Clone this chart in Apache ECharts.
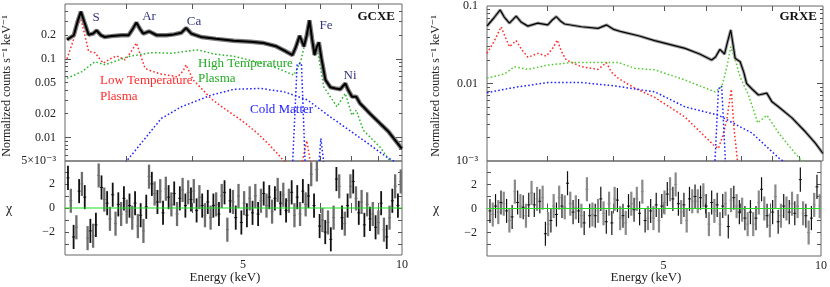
<!DOCTYPE html>
<html><head><meta charset="utf-8">
<script src="https://cdn.jsdelivr.net/npm/echarts@6/dist/echarts.min.js"></script>
<style>html,body{margin:0;padding:0;background:#fff}#c{width:830px;height:287px}</style>
</head><body><div id="c"></div>
<script>
// ---------- GCXE (left) ----------
const gcEnergy = [2.32,2.39,2.43,2.465,2.50,2.55,2.60,2.64,2.69,2.735,2.82,2.94,3.035,3.09,3.14,3.19,3.235,3.32,3.43,3.58,3.70,3.82,3.90,3.99,4.165,4.44,4.80,5.17,5.47,5.77,6.02,6.20,6.29,6.40,6.52,6.60,6.68,6.755,6.83,6.89,6.96,7.04,7.16,7.32,7.48,7.64,7.81,7.91,8.04,8.19,8.33,8.45,8.70,9.09,9.41,9.77,9.99];
const gcData = [0.175,0.20,0.30,0.40,0.30,0.203,0.21,0.23,0.20,0.19,0.195,0.20,0.20,0.24,0.29,0.24,0.21,0.224,0.20,0.20,0.205,0.215,0.247,0.21,0.19,0.18,0.17,0.165,0.159,0.145,0.125,0.112,0.14,0.197,0.144,0.20,0.31,0.18,0.112,0.14,0.162,0.10,0.054,0.0434,0.042,0.041,0.0488,0.04,0.033,0.033,0.027,0.0245,0.02,0.015,0.012,0.0087,0.0072];
const gcLowE = [2.32,2.39,2.43,2.465,2.50,2.55,2.62,2.66,2.72,2.80,2.88,2.99,3.06,3.14,3.20,3.26,3.35,3.50,3.76,3.85,3.90,3.95,4.02,4.17,4.35,4.58,4.81,5.06,5.33,5.59,5.89,6.05,6.29,6.48,6.60,6.71,6.86];
const gcLow = [0.1,0.18,0.27,0.316,0.22,0.124,0.12,0.105,0.088,0.1,0.109,0.097,0.12,0.159,0.11,0.076,0.07,0.064,0.059,0.07,0.084,0.07,0.054,0.042,0.031,0.024,0.0191,0.015,0.0112,0.0082,0.0056,0.0045,0.0038,0.005,0.0091,0.0048,0.003];
const gcHighE = [2.32,2.476,2.62,2.74,3.03,3.35,3.66,3.90,4.11,4.41,4.80,5.29,5.81,6.24,6.425,6.54,6.66,6.81,6.93,7.11,7.53,7.81,8.04,8.19,8.45,9.09,9.49,9.91];
const gcHigh = [0.0565,0.0687,0.092,0.084,0.107,0.12,0.118,0.125,0.13,0.115,0.108,0.092,0.076,0.062,0.092,0.15,0.26,0.11,0.118,0.044,0.0245,0.0363,0.0191,0.0222,0.0123,0.0075,0.005,0.0036];
const gcColdE = [2.80,3.01,3.50,3.82,4.35,4.81,5.40,5.98,6.62,7.32,8.45,9.36,9.91];
const gcCold = [0.0025,0.005,0.0174,0.0245,0.0345,0.041,0.042,0.038,0.030,0.0182,0.0092,0.0056,0.0045];
const gcFeKaE = [6.20,6.33,6.45,6.56];
const gcFeKa = [0.004,0.086,0.088,0.004];
const gcFeKbE = [6.95,7.02,7.07,7.13];
const gcFeKb = [0.004,0.0097,0.0095,0.004];

// ---------- GRXE (right) ----------
const grEnergy = [2.30,2.37,2.436,2.48,2.537,2.613,2.67,2.75,2.87,3.00,3.06,3.114,3.18,3.23,3.475,3.74,3.88,4.00,4.14,4.48,4.79,5.47,5.83,6.145,6.25,6.37,6.50,6.59,6.68,6.81,6.96,7.07,7.16,7.33,7.54,7.82,8.00,8.23,8.73,9.25,9.67,10.0];
const grData = [0.0552,0.07,0.089,0.072,0.06,0.074,0.062,0.055,0.06,0.057,0.066,0.073,0.063,0.0586,0.054,0.0515,0.057,0.05,0.0466,0.041,0.0357,0.0284,0.024,0.0201,0.022,0.0276,0.024,0.035,0.049,0.0211,0.0191,0.014,0.01,0.0085,0.0071,0.0075,0.0058,0.005,0.0036,0.0024,0.0017,0.00125];
const grLowE = [2.30,2.373,2.447,2.49,2.537,2.613,2.671,2.751,2.874,2.981,3.06,3.128,3.184,3.253,3.475,3.739,3.878,3.964,4.082,4.39,4.793,5.466,6.19,6.328,6.45,6.564,6.695,6.77,6.89];
const grLow = [0.0245,0.035,0.054,0.04,0.0298,0.0357,0.028,0.0218,0.0245,0.0226,0.028,0.0364,0.026,0.0201,0.0165,0.0152,0.0186,0.014,0.0117,0.0087,0.0066,0.0037,0.00162,0.00145,0.0021,0.0034,0.0084,0.0028,0.0009];
const grHighE = [2.30,2.483,2.594,2.751,3.003,3.229,3.326,3.739,4.082,4.39,4.793,5.466,6.236,6.423,6.564,6.681,6.859,6.956,7.219,7.518,7.823,8.234,8.856,9.12,9.6];
const grHigh = [0.0117,0.0133,0.0165,0.0152,0.0173,0.0182,0.0187,0.0186,0.0187,0.0157,0.015,0.0111,0.0078,0.0091,0.016,0.0298,0.0173,0.0122,0.0071,0.0031,0.0039,0.0023,0.00125,0.001,0.0007];
const grColdE = [2.30,2.594,3.003,3.475,4.022,4.793,5.466,6.328,7.325,8.234,8.8];
const grCold = [0.0076,0.0089,0.0103,0.0103,0.0093,0.0078,0.005,0.0039,0.0023,0.0011,0.0008];
const grFeKaE = [6.23,6.33,6.42,6.53];
const grFeKa = [0.0009,0.0085,0.0093,0.0009];

// ---------- residuals (chi) ----------
const residE = [2.330,2.359,2.388,2.417,2.446,2.476,2.507,2.538,2.569,2.600,2.632,2.664,2.697,2.730,2.764,2.798,2.832,2.867,2.902,2.938,2.974,3.010,3.047,3.084,3.122,3.160,3.199,3.238,3.278,3.318,3.359,3.400,3.442,3.484,3.527,3.570,3.614,3.658,3.703,3.749,3.795,3.841,3.888,3.936,3.984,4.033,4.083,4.133,4.184,4.235,4.287,4.340,4.393,4.447,4.501,4.556,4.612,4.669,4.726,4.784,4.843,4.902,4.963,5.023,5.085,5.147,5.211,5.275,5.339,5.405,5.471,5.538,5.606,5.675,5.745,5.815,5.886,5.959,6.032,6.106,6.181,6.256,6.333,6.411,6.490,6.569,6.650,6.731,6.814,6.898,6.982,7.068,7.155,7.242,7.331,7.421,7.512,7.605,7.698,7.792,7.888,7.985,8.083,8.182,8.282,8.384,8.487,8.591,8.696,8.803,8.911,9.020,9.131,9.243,9.356,9.471,9.587,9.705,9.824,9.945];
const gcResid = [2.5,0.6,-2.4,-1.6,1.4,2.0,0.9,-2.5,-1.9,-2.3,
 -1.4,2.7,1.7,0.7,0.4,-0.9,1.1,-1.3,0.3,-0.5,
 0.8,-0.3,0.2,-0.8,0.4,-1.5,-0.6,-1.9,0.1,2.6,
 2.0,1.2,0.5,1.4,-0.4,1.6,0.9,0.3,1.2,-0.5,
 0.8,1.5,0.2,1.3,0.7,1.4,-0.2,0.9,0.2,-0.6,
 0.5,-0.8,0.2,0.3,-0.5,1.0,1.3,-1.8,0.6,0.5,
 -0.8,1.0,-1.2,0.4,-0.6,0.8,-0.4,1.0,-0.5,0.6,
 1.2,0.2,0.9,-0.3,0.8,1.5,0.4,1.1,-0.2,0.6,
 1.3,-0.6,0.9,-0.5,1.4,0.3,1.0,2.8,0.2,3.2,
 -1.5,-1.0,-2.0,-1.2,-2.6,-0.8,2.4,1.8,-0.8,-1.3,
 0.2,1.8,2.2,0.8,-0.4,0.5,-1.4,0.3,-0.9,-0.5,
 -1.6,-1.2,0.4,-1.8,-2.4,-0.8,0.6,1.8,0.2,2.2];
const grResid = [-0.2,-0.5,0.2,-0.3,0.5,0.4,-0.2,-1.0,-0.7,1.4,
 0.5,0.2,0.1,-0.6,0.3,1.3,0.3,0.8,0.6,0.9,
 -2.1,-1.3,-1.0,0.2,-0.5,0.9,0.2,0.1,2.1,0.4,
 -0.3,0.1,-0.2,-0.6,-1.2,1.6,-0.6,-0.5,-0.6,-0.2,
 0.8,-0.4,-1.1,0.4,-1.2,0.8,0.7,-0.8,-0.6,-1.2,
 0.2,0.4,-0.1,0.8,-0.4,1.4,-1.0,-0.8,-0.2,-0.8,
 0.3,-1.0,0.2,0.5,1.2,1.6,0.8,2.0,0.4,-0.3,
 0.3,-1.0,0.8,0.6,1.0,0.6,0.9,1.1,0.2,-1.3,
 0.5,-0.2,0.3,-1.3,0.2,0.4,-1.5,0.7,0.9,0.2,
 -0.3,-0.1,-0.8,-1.3,-0.3,-1.3,-0.8,0.5,1.6,0.0,
 -0.6,-1.4,-0.3,1.0,-1.1,-0.6,0.2,0.0,-0.3,0.4,
 -0.4,0.2,2.4,-0.4,-0.6,-2.0,-0.8,0.3,1.8,0.2];

// ---------- tick definitions ----------
const xTicks = [3,4,5,6,7,8,9];
const xLabels = [5,10];
const gcYLabelVals = [0.005,0.01,0.02,0.05,0.1,0.2];
const gcYLabelTxt = ['5×10⁻³','0.01','0.02','0.05','0.1','0.2'];
const gcYMajor = [0.01,0.1];
const gcYMinor = [0.006,0.007,0.008,0.009,0.02,0.03,0.04,0.05,0.06,0.07,0.08,0.09,0.2,0.3,0.4];
const grYLabelVals = [0.001,0.01,0.1];
const grYLabelTxt = ['10⁻³','0.01','0.1'];
const grYMajor = [0.01];
const grYMinor = [0.002,0.003,0.004,0.005,0.006,0.007,0.008,0.009,0.02,0.03,0.04,0.05,0.06,0.07,0.08,0.09];
const chiLabelVals = [-2,0,2];
const chiLabelTxt = ['−2','0','2'];
const chiTicks = [-3,-2,-1,0,1,2,3];

const L = Math.log10;
const FONT = '"Liberation Serif","DejaVu Serif",serif';
const xMin = L(2.3), xMax = 1;
const pts = (E,V) => E.map((e,i)=>[L(e), L(V[i])]);
const rpts = (E,R) => E.map((e,i)=>[L(e), R[i]]);
const TC = '#555';

function xAx(grid,pos,labels){
  return {type:'value',gridIndex:grid,position:pos,min:xMin,max:xMax,
    axisLine:{show:false},splitLine:{show:false},
    axisTick:{show:true,inside:true,length:5,customValues:xTicks.map(L),lineStyle:{color:TC}},
    axisLabel:{show:labels,customValues:xLabels.map(L),showMinLabel:true,showMaxLabel:true,
      formatter:v=>String(Math.round(Math.pow(10,v))),fontFamily:FONT,fontSize:12,color:'#222',margin:4}};
}
function yLog(grid,pos,lo,hi,tickVals,len,labVals,labTxt){
  const o = {type:'value',gridIndex:grid,position:pos,min:L(lo),max:L(hi),
    axisLine:{show:false},splitLine:{show:false},
    axisTick:{show:true,inside:true,length:len,customValues:tickVals.map(L),lineStyle:{color:TC}},
    axisLabel:{show:!!labVals}};
  if(labVals){
    o.axisLabel = {show:true,customValues:labVals.map(L),showMinLabel:true,showMaxLabel:true,
      formatter:v=>{let k=0,d=1e9;labVals.forEach((x,i)=>{const dd=Math.abs(L(x)-v);if(dd<d){d=dd;k=i;}});return labTxt[k];},
      fontFamily:FONT,fontSize:12,color:'#222',margin:9};
  }
  return o;
}
function yChi(grid,pos,lim,labels){
  return {type:'value',gridIndex:grid,position:pos,min:-lim,max:lim,
    axisLine:{show:false},splitLine:{show:false},
    axisTick:{show:true,inside:true,length:4,customValues:chiTicks,lineStyle:{color:TC}},
    axisLabel:labels?{show:true,customValues:chiLabelVals,
      formatter:v=>chiLabelTxt[chiLabelVals.indexOf(Math.round(v))],fontFamily:FONT,fontSize:12,color:'#222',margin:10}:{show:false}};
}
function dotted(data,xi,yi,color){
  return {type:'line',xAxisIndex:xi,yAxisIndex:yi,data:data,symbol:'none',clip:true,silent:true,z:2,
    lineStyle:{color:color,width:1.5,type:[1.6,2.2]}};
}
function solid(data,xi,yi,color,w,z){
  return {type:'line',xAxisIndex:xi,yAxisIndex:yi,data:data,symbol:'none',clip:true,silent:true,z:z,
    lineStyle:{color:color,width:w}};
}
function errBars(E,R,xi,yi,wB,wG,grayCol){
  return {type:'custom',xAxisIndex:xi,yAxisIndex:yi,clip:true,z:3,silent:true,
    encode:{x:0,y:1},data:rpts(E,R),
    renderItem:(params,api)=>{
      const x=api.value(0),y=api.value(1);
      const a=api.coord([x,y+1]),b=api.coord([x,y-1]),c=api.coord([x,y]);
      const gray=params.dataIndex%2===1;
      const col=gray?grayCol:'#111';
      return {type:'group',children:[
        {type:'line',shape:{x1:a[0],y1:a[1],x2:b[0],y2:b[1]},style:{stroke:col,lineWidth:gray?wG:wB}},
        {type:'line',shape:{x1:c[0]-1.5,y1:c[1],x2:c[0]+1.5,y2:c[1]},style:{stroke:col,lineWidth:1}}
      ]};
    }};
}

const RED='#ff2a2a', GREEN='#2fb52f', BLUE='#2323ff', NAVY='#33337a';
const gridStyle = {show:true,borderColor:'#666',borderWidth:1,backgroundColor:'transparent'};

const option = {
  animation:false,
  grid:[
    Object.assign({left:65,top:4,width:337,height:157},gridStyle),
    Object.assign({left:65,top:161,width:337,height:94},gridStyle),
    Object.assign({left:487,top:6,width:336,height:155},gridStyle),
    Object.assign({left:487,top:161,width:336,height:95},gridStyle)
  ],
  xAxis:[xAx(0,'bottom',false),xAx(0,'top',false),xAx(1,'bottom',true),xAx(1,'top',false),
         xAx(2,'bottom',false),xAx(2,'top',false),xAx(3,'bottom',true),xAx(3,'top',false)],
  yAxis:[
    yLog(0,'left',0.005,0.5,gcYMajor,6,gcYLabelVals,gcYLabelTxt),
    yLog(0,'left',0.005,0.5,gcYMinor,3),
    yLog(0,'right',0.005,0.5,gcYMajor,6),
    yLog(0,'right',0.005,0.5,gcYMinor,3),
    yChi(1,'left',3.9,true),
    yChi(1,'right',3.9,false),
    yLog(2,'left',0.001,0.1,grYMajor,6,grYLabelVals,grYLabelTxt),
    yLog(2,'left',0.001,0.1,grYMinor,3),
    yLog(2,'right',0.001,0.1,grYMajor,6),
    yLog(2,'right',0.001,0.1,grYMinor,3),
    yChi(3,'left',3.95,true),
    yChi(3,'right',3.95,false)
  ],
  series:[
    dotted(pts(gcLowE,gcLow),0,0,RED),
    dotted(pts(gcHighE,gcHigh),0,0,GREEN),
    dotted(pts(gcColdE,gcCold),0,0,BLUE),
    dotted(pts(gcFeKaE,gcFeKa),0,0,BLUE),
    dotted(pts(gcFeKbE,gcFeKb),0,0,BLUE),
    solid(pts(gcEnergy,gcData),0,0,'#7a7a7a',4.4,3),
    solid(pts(gcEnergy,gcData),0,0,'#000',2,4),
    errBars(residE,gcResid,2,4,1.8,2.3,'#6e6e6e'),
    solid([[xMin,0],[xMax,0]],2,4,'#22dd22',1.2,5),

    dotted(pts(grLowE,grLow),4,6,RED),
    dotted(pts(grHighE,grHigh),4,6,'#55cc33'),
    dotted(pts(grColdE,grCold),4,6,BLUE),
    dotted(pts(grFeKaE,grFeKa),4,6,BLUE),
    solid(pts(grEnergy,grData),4,6,'#a0a0a0',3.2,3),
    solid(pts(grEnergy,grData),4,6,'#000',1.2,4),
    errBars(residE,grResid,6,10,1.2,2.2,'#8a8a8a'),
    solid([[xMin,0],[xMax,0]],6,10,'#22dd22',1.2,5)
  ],
  graphic:[
    {type:'text',x:96,y:18,style:{text:'S',fill:NAVY,font:'13px '+FONT,align:'center',verticalAlign:'middle'}},
    {type:'text',x:149,y:17,style:{text:'Ar',fill:NAVY,font:'13px '+FONT,align:'center',verticalAlign:'middle'}},
    {type:'text',x:194,y:22,style:{text:'Ca',fill:NAVY,font:'13px '+FONT,align:'center',verticalAlign:'middle'}},
    {type:'text',x:326,y:26,style:{text:'Fe',fill:NAVY,font:'13px '+FONT,align:'center',verticalAlign:'middle'}},
    {type:'text',x:350,y:76,style:{text:'Ni',fill:NAVY,font:'13px '+FONT,align:'center',verticalAlign:'middle'}},
    {type:'text',x:395,y:17,style:{text:'GCXE',fill:'#111',font:'bold 13px '+FONT,align:'right',verticalAlign:'middle'}},
    {type:'text',x:100,y:81,style:{text:'Low Temperature',fill:RED,font:'13px '+FONT,align:'left',verticalAlign:'middle'}},
    {type:'text',x:100,y:97,style:{text:'Plasma',fill:RED,font:'13px '+FONT,align:'left',verticalAlign:'middle'}},
    {type:'text',x:198,y:64,style:{text:'High Temperature',fill:'#22aa22',font:'13px '+FONT,align:'left',verticalAlign:'middle'}},
    {type:'text',x:198,y:79,style:{text:'Plasma',fill:'#22aa22',font:'13px '+FONT,align:'left',verticalAlign:'middle'}},
    {type:'text',x:250,y:110,style:{text:'Cold Matter',fill:BLUE,font:'13px '+FONT,align:'left',verticalAlign:'middle'}},
    {type:'text',x:817,y:17,style:{text:'GRXE',fill:'#111',font:'bold 13px '+FONT,align:'right',verticalAlign:'middle'}},
    {type:'text',x:7,y:86,rotation:Math.PI/2,style:{text:'Normalized counts s⁻¹ keV⁻¹',fill:'#222',font:'12px '+FONT,align:'center',verticalAlign:'middle'}},
    {type:'text',x:436,y:86,rotation:Math.PI/2,style:{text:'Normalized counts s⁻¹ keV⁻¹',fill:'#222',font:'12px '+FONT,align:'center',verticalAlign:'middle'}},
    {type:'text',x:9,y:209,style:{text:'χ',fill:'#222',font:'14px '+FONT,align:'center',verticalAlign:'middle'}},
    {type:'text',x:436,y:209,style:{text:'χ',fill:'#222',font:'14px '+FONT,align:'center',verticalAlign:'middle'}},
    {type:'text',x:225,y:278,style:{text:'Energy (keV)',fill:'#222',font:'13px '+FONT,align:'center',verticalAlign:'middle'}},
    {type:'text',x:646,y:278,style:{text:'Energy (keV)',fill:'#222',font:'13px '+FONT,align:'center',verticalAlign:'middle'}}
  ]
};
const chart = echarts.init(document.getElementById('c'),null,{renderer:'canvas'});
chart.setOption(option);
</script></body></html>
